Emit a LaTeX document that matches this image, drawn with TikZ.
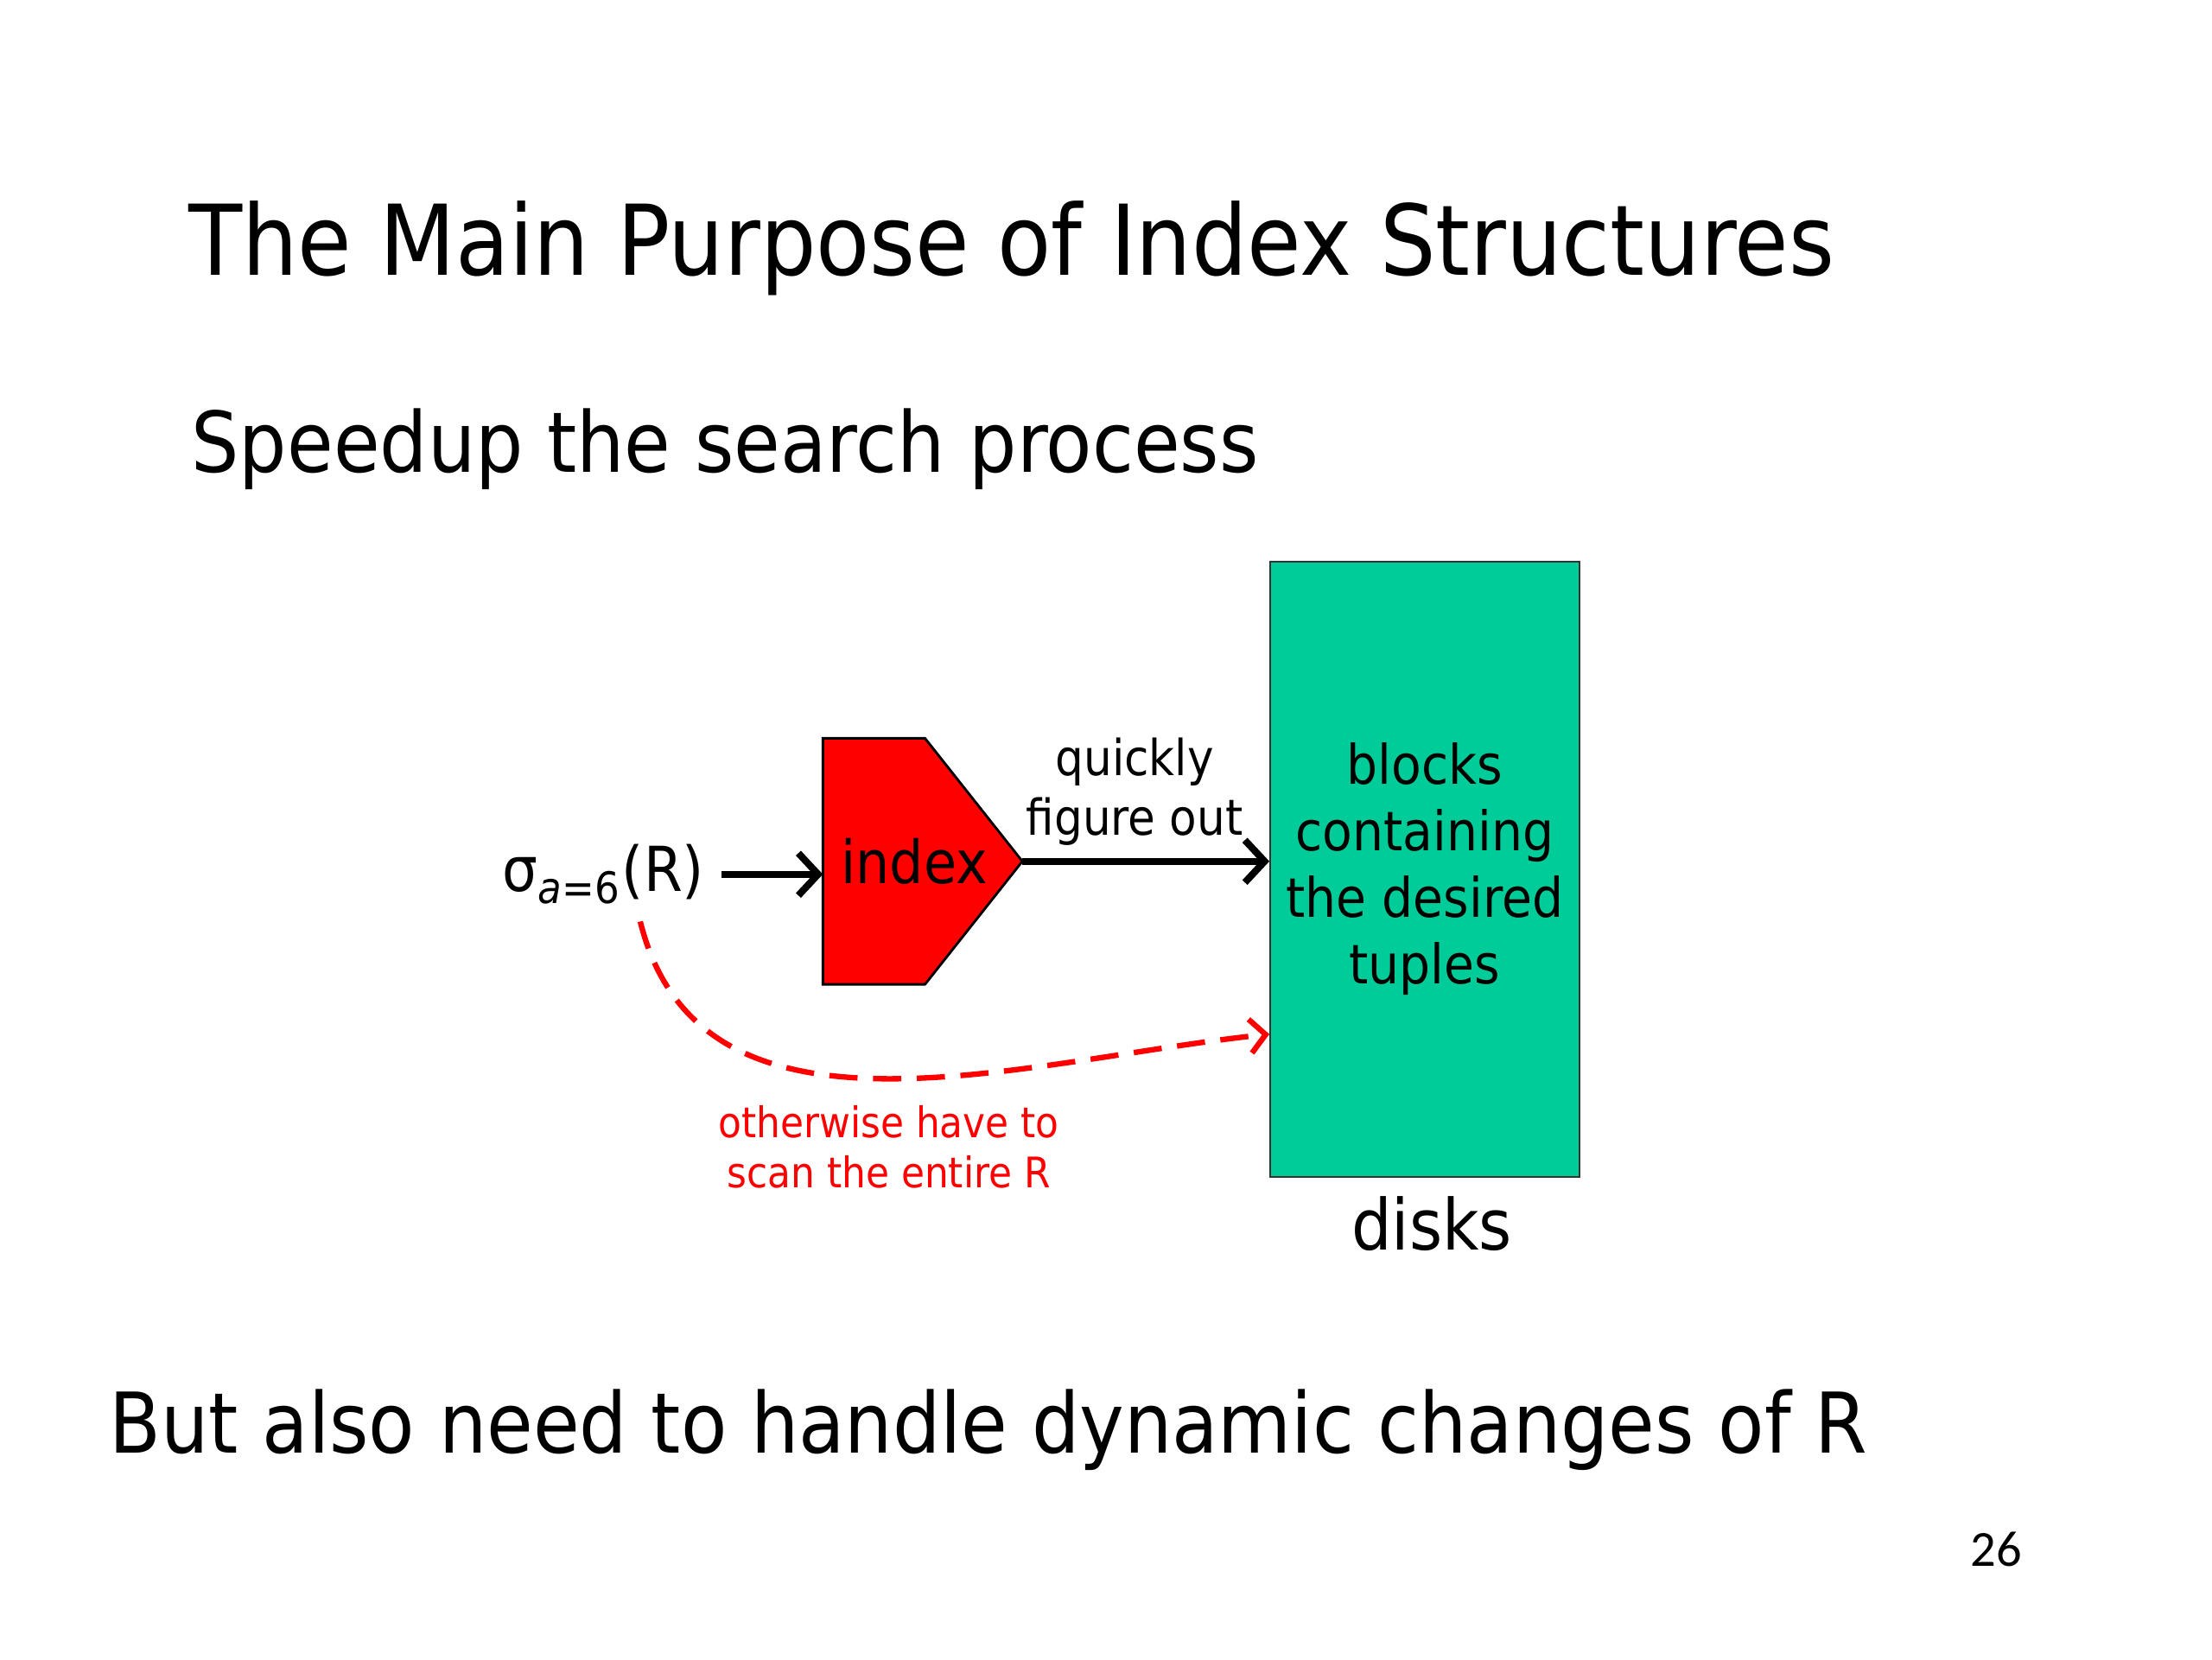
\documentclass[tikz,border=0pt]{standalone}
\usepackage{fontspec}
\setmainfont{DejaVu Sans Condensed}
\newfontfamily\numfont{Carlito}
\usetikzlibrary{arrows.meta}
\definecolor{diskgreen}{HTML}{00CC99}

\begin{document}
\begin{tikzpicture}[x=0.1mm,y=-0.1mm,
    headline/.style ={anchor=base west, inner sep=0pt, font=\fontsize{19.7}{24}\selectfont},
    bullet/.style ={anchor=base west, inner sep=0pt, font=\fontsize{16.9}{21}\selectfont},
    query/.style ={anchor=base west, font=\fontsize{12.5}{15}\selectfont},
    indexbox/.style ={minimum width=14mm, minimum height=17.3mm, inner sep=0pt},
    indexshape/.style ={draw, fill=red, line width=0.5pt},
    diskbox/.style ={rectangle, draw=black!80, fill=diskgreen, minimum width=21.9mm,
                     minimum height=43.6mm, align=center, inner sep=0pt,
                     font=\fontsize{11}{13.4}\selectfont},
    fastarrow/.style ={line width=1.4pt, -{Straight Barb[length=1.4mm, width=3mm]}},
    scanarrow/.style ={red, line width=1.1pt, dash pattern=on 2mm off 1.1mm,
                       -{Straight Barb[length=1.1mm, width=2.4mm]}}]
   \useasboundingbox (0,0) rectangle (1568,1176);

   \node[headline] (title) at (133,195) {The Main Purpose of Index Structures};
   \node[bullet] (speedup) at (135,335) {Speedup the search process};

   \node[query] (sigma) at (344,632) {σ\textsubscript{\textit{a}=6}(R)};
   \node[indexbox] (index) at (654,610.5) {};
   \draw[indexshape] (index.north west) -- ([xshift=-6.9mm]index.north east) -- (index.east)
        -- ([xshift=-6.9mm]index.south east) -- (index.south west) -- cycle;
   \node[font=\fontsize{12}{14}\selectfont] (indexlabel) at ([xshift=-0.6mm]index.center) {index};
   \node[diskbox] (blocks) at (1010,616) {blocks\\containing\\the desired\\tuples};
   \node[anchor=base, font=\fontsize{14.2}{17}\selectfont] (disks) at (1015,886) {disks};

   \draw[fastarrow] (sigma.east) -- (sigma.east -| index.west);
   \draw[fastarrow] (index.east) -- node[above, align=center, inner sep=2.5pt, xshift=-0.8mm,
        font=\fontsize{10}{12}\selectfont] {quickly\\figure out} (index.east -| blocks.west);

   \coordinate (scanend) at ([yshift=-11.7mm]blocks.west);
   \draw[scanarrow] ([xshift=2.6mm]sigma.south) to[out=-76, in=186] (scanend);
   \node[red, align=center, font=\fontsize{8.5}{10}\selectfont] (note) at (630,813)
        {otherwise have to\\scan the entire R};

   \node[bullet] (dynamic) at (77,1030) {But also need to handle dynamic changes of R};
   \node[anchor=base east, inner sep=0pt, font=\numfont\fontsize{10.2}{12}\selectfont] (page)
        at (1434,1110) {26};
 \end{tikzpicture}
\end{document}
